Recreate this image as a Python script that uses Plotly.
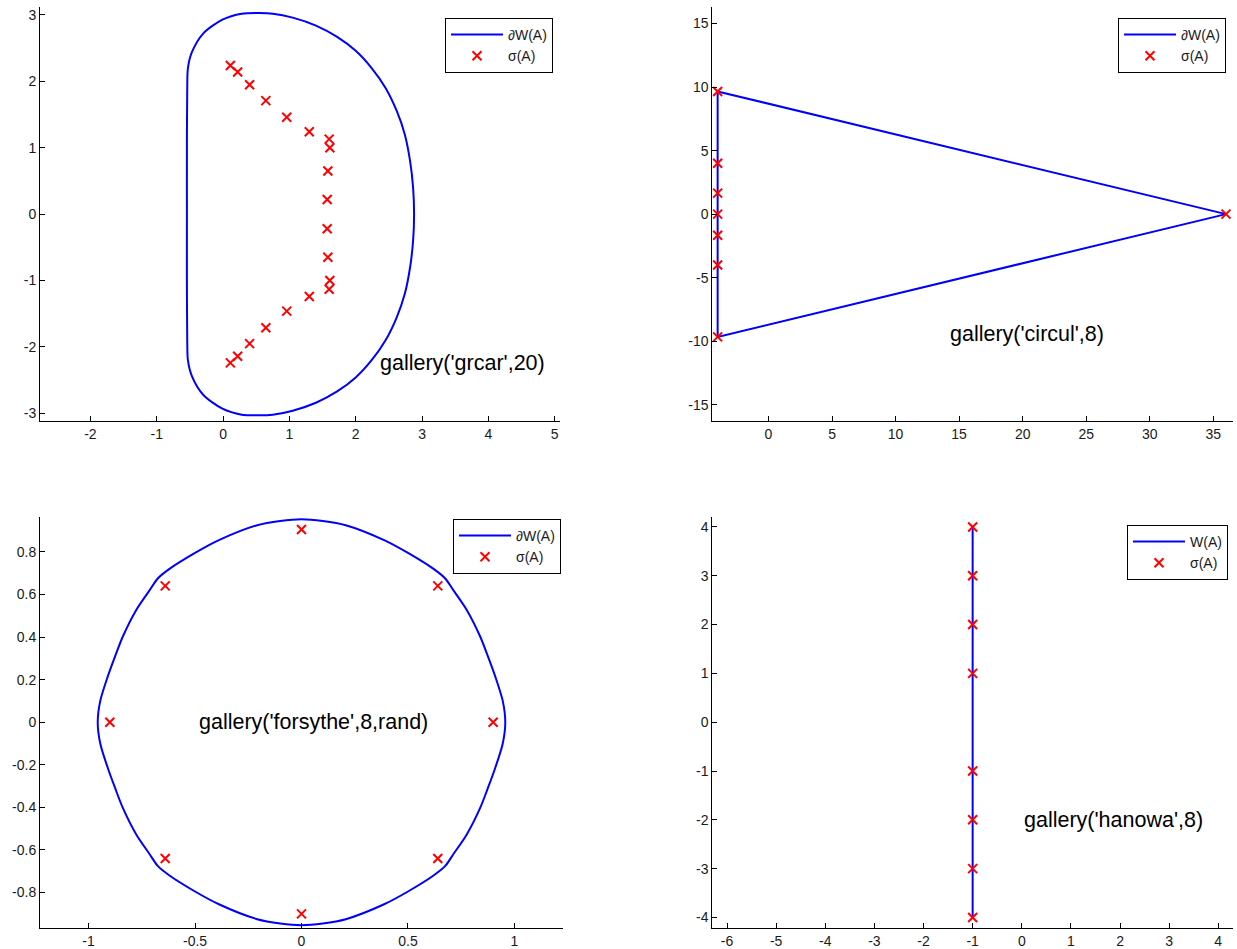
import plotly.graph_objects as go

# ---------------- data ----------------
# gallery('grcar',20): boundary of the field of values and eigenvalues
grcar_wx = [-0.545, -0.545, -0.54, -0.53, -0.47, -0.30, -0.01, 0.28, 0.55, 0.75, 1.05, 1.40, 1.72, 2.00, 2.24, 2.45, 2.62, 2.74, 2.82, 2.865, 2.88,
            2.865, 2.82, 2.74, 2.62, 2.45, 2.24, 2.00, 1.72, 1.40, 1.05, 0.75, 0.55, 0.28, -0.01, -0.30, -0.47, -0.53, -0.54, -0.545, -0.545]
grcar_wy = [0.0, 1.0, 1.9, 2.2, 2.44, 2.72, 2.93, 3.02, 3.03, 3.02, 2.96, 2.84, 2.67, 2.46, 2.20, 1.90, 1.55, 1.20, 0.80, 0.40, 0.0,
            -0.40, -0.80, -1.20, -1.55, -1.90, -2.20, -2.46, -2.67, -2.84, -2.96, -3.02, -3.03, -3.02, -2.93, -2.72, -2.44, -2.2, -1.9, -1.0, 0.0]
grcar_ex = [0.11, 0.22, 0.40, 0.645, 0.96, 1.30, 1.60, 1.61, 1.58, 1.57,
            1.57, 1.58, 1.61, 1.60, 1.30, 0.96, 0.645, 0.40, 0.22, 0.11]
grcar_ey = [2.24, 2.14, 1.95, 1.71, 1.46, 1.24, 1.13, 1.00, 0.65, 0.22,
            -0.22, -0.65, -1.00, -1.13, -1.24, -1.46, -1.71, -1.95, -2.14, -2.24]

# gallery('circul',8)
circ_wx = [-4.0, 36.0, -4.0, -4.0]
circ_wy = [9.657, 0.0, -9.657, 9.657]
circ_ex = [36.0, -4.0, -4.0, -4.0, -4.0, -4.0, -4.0, -4.0]
circ_ey = [0.0, 9.657, 4.0, 1.657, 0.0, -1.657, -4.0, -9.657]

# gallery('forsythe',8,rand)
fors_wx = [0.957, 0.945, 0.91, 0.875, 0.84, 0.776, 0.713, 0.675, 0.62, 0.5, 0.388, 0.208, 0.1, 0.0,
           -0.1, -0.208, -0.388, -0.5, -0.62, -0.675, -0.713, -0.776, -0.84, -0.875, -0.91, -0.945, -0.957,
           -0.945, -0.91, -0.875, -0.84, -0.776, -0.713, -0.675, -0.62, -0.5, -0.388, -0.208, -0.1, 0.0,
           0.1, 0.208, 0.388, 0.5, 0.62, 0.675, 0.713, 0.776, 0.84, 0.875, 0.91, 0.945, 0.957]
fors_wy = [0.0, 0.1, 0.214, 0.31, 0.40, 0.527, 0.62, 0.675, 0.72, 0.795, 0.855, 0.925, 0.945, 0.953,
           0.945, 0.925, 0.855, 0.795, 0.72, 0.675, 0.62, 0.527, 0.40, 0.31, 0.214, 0.1, 0.0,
           -0.1, -0.214, -0.31, -0.40, -0.527, -0.62, -0.675, -0.72, -0.795, -0.855, -0.925, -0.945, -0.953,
           -0.945, -0.925, -0.855, -0.795, -0.72, -0.675, -0.62, -0.527, -0.40, -0.31, -0.214, -0.1, 0.0]
fors_ex = [0.9, 0.64, 0.0, -0.64, -0.9, -0.64, 0.0, 0.64]
fors_ey = [0.0, 0.64, 0.905, 0.64, 0.0, -0.64, -0.9, -0.64]

# gallery('hanowa',8)
hano_wx = [-1.0, -1.0]
hano_wy = [-4.0, 4.0]
hano_ex = [-1.0, -1.0, -1.0, -1.0, -1.0, -1.0, -1.0, -1.0]
hano_ey = [4.0, 3.0, 2.0, 1.0, -1.0, -2.0, -3.0, -4.0]

# tick values / labels
tl_xt = [-2, -1, 0, 1, 2, 3, 4, 5]
tl_yt = [-3, -2, -1, 0, 1, 2, 3]
tr_xt = [0, 5, 10, 15, 20, 25, 30, 35]
tr_yt = [-15, -10, -5, 0, 5, 10, 15]
bl_xt = [-1, -0.5, 0, 0.5, 1]
bl_xl = ["-1", "-0.5", "0", "0.5", "1"]
bl_yt = [-0.8, -0.6, -0.4, -0.2, 0, 0.2, 0.4, 0.6, 0.8]
bl_yl = ["-0.8", "-0.6", "-0.4", "-0.2", "0", "0.2", "0.4", "0.6", "0.8"]
br_xt = [-6, -5, -4, -3, -2, -1, 0, 1, 2, 3, 4]
br_yt = [-4, -3, -2, -1, 0, 1, 2, 3, 4]

titles = ["gallery('grcar',20)", "gallery('circul',8)",
          "gallery('forsythe',8,rand)", "gallery('hanowa',8)"]
boundary_names = ["\u2202W(A)", "\u2202W(A)", "\u2202W(A)", "W(A)"]
eig_name = "\u03c3(A)"

# ---------------- figure ----------------
W, H = 1237, 949
FONT = "Liberation Sans, Arial, Helvetica, sans-serif"
BLUE = "#0000ff"
RED = "#ff0000"

fig = go.Figure()

panels = [
    dict(wx=grcar_wx, wy=grcar_wy, ex=grcar_ex, ey=grcar_ey, shape="spline"),
    dict(wx=circ_wx, wy=circ_wy, ex=circ_ex, ey=circ_ey, shape="linear"),
    dict(wx=fors_wx, wy=fors_wy, ex=fors_ex, ey=fors_ey, shape="spline"),
    dict(wx=hano_wx, wy=hano_wy, ex=hano_ex, ey=hano_ey, shape="linear"),
]

for i, p in enumerate(panels):
    ax = "" if i == 0 else str(i + 1)
    lg = "legend" if i == 0 else "legend" + str(i + 1)
    line = dict(color=BLUE, width=2, shape=p["shape"])
    if p["shape"] == "spline":
        line["smoothing"] = 0.8
    fig.add_trace(go.Scatter(x=p["wx"], y=p["wy"], mode="lines", line=line,
                             name=boundary_names[i], xaxis="x" + ax, yaxis="y" + ax,
                             legend=lg, showlegend=True))
    fig.add_trace(go.Scatter(x=p["ex"], y=p["ey"], mode="markers",
                             marker=dict(symbol="x-thin", size=9, color=RED,
                                         line=dict(color=RED, width=2)),
                             name=eig_name, xaxis="x" + ax, yaxis="y" + ax,
                             legend=lg, showlegend=True))

# axis domains in pixels (left, right, top, bottom)
boxes = [(40, 560, 7, 421.3), (712.3, 1233, 7, 421.3),
         (40, 563, 516.7, 927.7), (712.3, 1233, 516.7, 927.7)]
xranges = [[-2.76, 5.08], [-4.42, 36.55], [-1.228, 1.228], [-6.3, 4.3]]
yranges = [[-3.12, 3.12], [-16.3, 16.3], [-0.965, 0.965], [-4.21, 4.21]]
xticks = [(tl_xt, [str(v) for v in tl_xt]), (tr_xt, [str(v) for v in tr_xt]),
          (bl_xt, bl_xl), (br_xt, [str(v) for v in br_xt])]
yticks = [(tl_yt, [str(v) for v in tl_yt]), (tr_yt, [str(v) for v in tr_yt]),
          (bl_yt, bl_yl), (br_yt, [str(v) for v in br_yt])]

axis_common = dict(showgrid=False, zeroline=False, showline=True, linecolor="#000000",
                   linewidth=1, ticks="inside", ticklen=5, tickcolor="#000000",
                   tickfont=dict(family=FONT, size=14, color="#1a1a1a"), mirror=False)

layout = dict(width=W, height=H, margin=dict(l=0, r=0, t=0, b=0),
              paper_bgcolor="white", plot_bgcolor="white", showlegend=True)

for i in range(4):
    l, r, t, b = boxes[i]
    ax = "" if i == 0 else str(i + 1)
    layout["xaxis" + ax] = dict(axis_common, domain=[l / W, r / W], range=xranges[i],
                                tickvals=xticks[i][0], ticktext=xticks[i][1],
                                anchor="y" + ax)
    layout["yaxis" + ax] = dict(axis_common, domain=[1 - b / H, 1 - t / H], range=yranges[i],
                                tickvals=yticks[i][0], ticktext=yticks[i][1],
                                anchor="x" + ax)

# legend boxes (right edge, top edge in pixels)
legend_pos = [(553, 18), (1226, 18), (561, 519), (1228, 525)]
for i, (rx, ty) in enumerate(legend_pos):
    lg = "legend" if i == 0 else "legend" + str(i + 1)
    layout[lg] = dict(x=rx / W, y=1 - ty / H, xanchor="right", yanchor="top",
                      bgcolor="white", bordercolor="#000000", borderwidth=1,
                      font=dict(family=FONT, size=14, color="#1a1a1a"),
                      itemwidth=52, tracegroupgap=0)

fig.update_layout(**layout)

# panel captions placed in data coordinates
caption_pos = [(2.34, -2.24), (14.1, -9.4), (-0.49, 0.0), (0.0, -2.0)]
for i, (cx, cy) in enumerate(caption_pos):
    ax = "" if i == 0 else str(i + 1)
    fig.add_annotation(x=cx, y=cy, xref="x" + ax, yref="y" + ax, text=titles[i],
                       showarrow=False, xanchor="left", yanchor="middle",
                       font=dict(family=FONT, size=21.5, color="#000000"))

fig.write_html("out.html")
